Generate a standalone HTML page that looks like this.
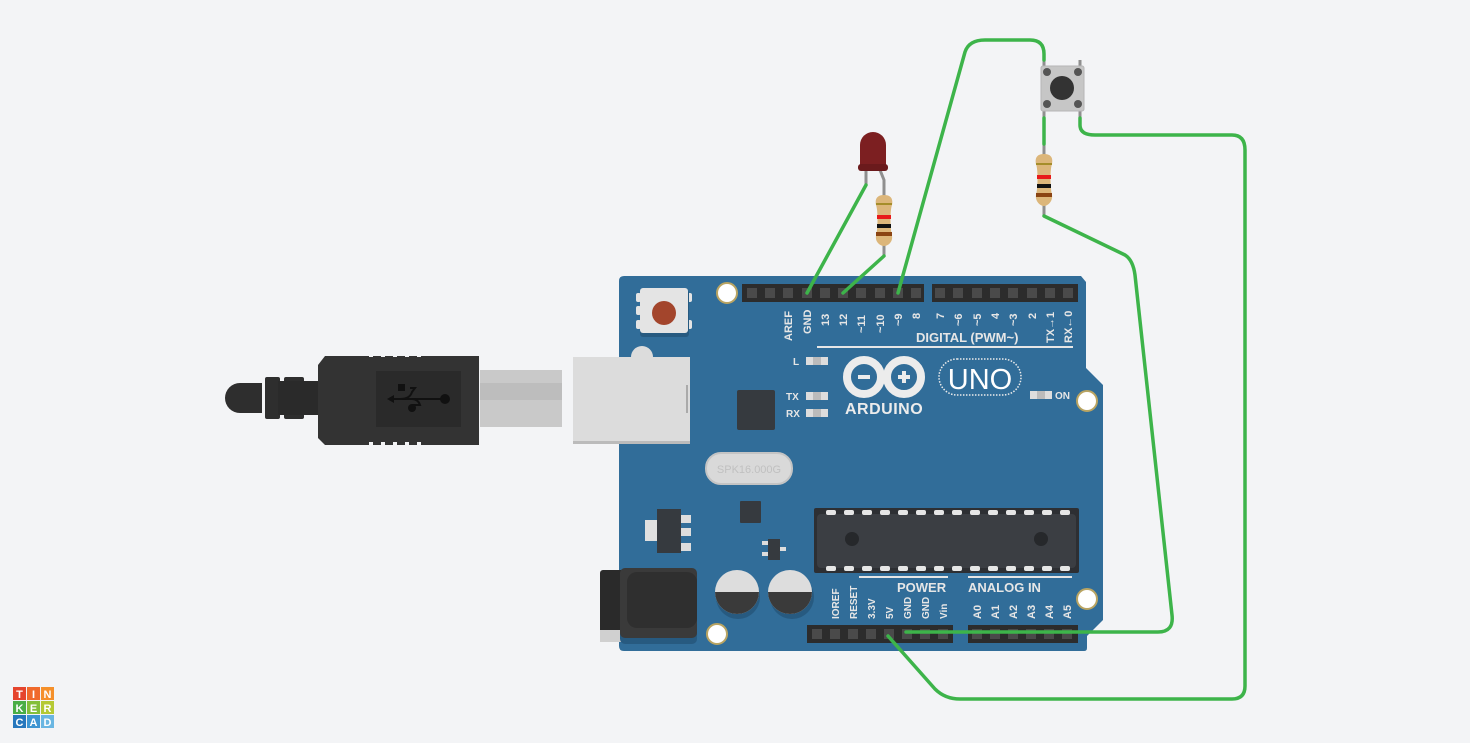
<!DOCTYPE html>
<html><head><meta charset="utf-8"><style>
html,body{margin:0;padding:0;background:#f3f4f6;}
svg{display:block;font-family:"Liberation Sans",sans-serif;}
</style></head><body>
<svg width="1470" height="743" viewBox="0 0 1470 743" xmlns="http://www.w3.org/2000/svg">
<rect width="1470" height="743" fill="#f3f4f6"/>

<!-- USB cable -->
<g>
<path d="M240 383 H262 V413 H240 A15 15 0 0 1 240 383 Z" fill="#2e2e2e"/>
<rect x="265" y="377" width="15" height="42" rx="2" fill="#2e2e2e"/>
<rect x="284" y="377" width="20" height="42" rx="2" fill="#2e2e2e"/>
<rect x="278" y="381" width="40" height="34" fill="#2a2a2a"/>
<path d="M325 356 H479 V445 H325 L318 438 V365 Z" fill="#333"/>
<g fill="#f3f4f6"><rect x="369" y="353" width="4" height="4"/><rect x="381" y="353" width="4" height="4"/><rect x="393" y="353" width="4" height="4"/><rect x="405" y="353" width="4" height="4"/><rect x="417" y="353" width="4" height="4"/><rect x="369" y="442" width="4" height="4"/><rect x="381" y="442" width="4" height="4"/><rect x="393" y="442" width="4" height="4"/><rect x="405" y="442" width="4" height="4"/><rect x="417" y="442" width="4" height="4"/></g>
<rect x="376" y="371" width="85" height="56" fill="#2a2a2a"/>
<g stroke="#111" stroke-width="2" fill="none"><path d="M390 399 H445"/><path d="M400 399 Q410 399 412 392 L415 388 H410"/><path d="M412 399 Q418 399 420 405 H412"/></g>
<rect x="398" y="384" width="7" height="7" fill="#111"/><circle cx="445" cy="399" r="5" fill="#111"/><circle cx="412" cy="408" r="4" fill="#111"/><path d="M387 399 L394 395 V403 Z" fill="#111"/>
<rect x="480" y="370" width="82" height="57" fill="#c9c9c9"/>
<rect x="480" y="383" width="82" height="17" fill="#bdbdbd"/>
</g>

<!-- board -->
<path d="M624 276 H1081 L1086 282 V368 L1103 385 V620 L1087 636 V648 Q1087 651 1084 651 H624 Q619 651 619 646 V281 Q619 276 624 276 Z" fill="#316d99"/>
<circle cx="642" cy="357" r="11" fill="#dcdcdc"/>
<rect x="573" y="357" width="117" height="86" fill="#dcdcdc"/>
<rect x="573" y="441" width="117" height="3" fill="#bbb"/>
<rect x="686" y="385" width="2" height="28" fill="#aaa"/>

<!-- reset -->
<rect x="636" y="293" width="5" height="9" rx="2" fill="#e4e4e4"/><rect x="636" y="306" width="5" height="9" rx="2" fill="#e4e4e4"/><rect x="636" y="320" width="5" height="9" rx="2" fill="#e4e4e4"/>
<rect x="687" y="293" width="5" height="9" rx="2" fill="#e4e4e4"/><rect x="687" y="320" width="5" height="9" rx="2" fill="#e4e4e4"/>
<rect x="640" y="290" width="49" height="47" rx="3" fill="#275a80"/>
<rect x="640" y="288" width="48" height="45" rx="3" fill="#e4e4e4"/>
<circle cx="664" cy="313" r="12" fill="#a3452c"/>

<!-- holes -->
<g fill="#fff" stroke="#b9a462" stroke-width="2"><circle cx="727" cy="293" r="10"/><circle cx="1087" cy="401" r="10"/><circle cx="1087" cy="599" r="10"/><circle cx="717" cy="634" r="10"/></g>

<!-- top headers -->
<rect x="742" y="284" width="182" height="18" fill="#2c2c2c"/>
<rect x="932" y="284" width="146" height="18" fill="#2c2c2c"/>
<g fill="#4a4a4a">
<rect x="747" y="288" width="10" height="10"/><rect x="765" y="288" width="10" height="10"/><rect x="783" y="288" width="10" height="10"/><rect x="802" y="288" width="10" height="10"/><rect x="820" y="288" width="10" height="10"/><rect x="838" y="288" width="10" height="10"/><rect x="856" y="288" width="10" height="10"/><rect x="875" y="288" width="10" height="10"/><rect x="893" y="288" width="10" height="10"/><rect x="911" y="288" width="10" height="10"/>
<rect x="935" y="288" width="10" height="10"/><rect x="953" y="288" width="10" height="10"/><rect x="972" y="288" width="10" height="10"/><rect x="990" y="288" width="10" height="10"/><rect x="1008" y="288" width="10" height="10"/><rect x="1027" y="288" width="10" height="10"/><rect x="1045" y="288" width="10" height="10"/><rect x="1063" y="288" width="10" height="10"/>
</g>
<g fill="#e6e6e6" font-size="11" font-weight="bold">
<text transform="translate(792,341) rotate(-90)">AREF</text>
<text transform="translate(811,334) rotate(-90)">GND</text>
<text transform="translate(829,326) rotate(-90)">13</text>
<text transform="translate(847,326) rotate(-90)">12</text>
<text transform="translate(865,333) rotate(-90)">~11</text>
<text transform="translate(884,333) rotate(-90)">~10</text>
<text transform="translate(902,326) rotate(-90)">~9</text>
<text transform="translate(920,319) rotate(-90)">8</text>
<text transform="translate(944,319) rotate(-90)">7</text>
<text transform="translate(962,326) rotate(-90)">~6</text>
<text transform="translate(981,326) rotate(-90)">~5</text>
<text transform="translate(999,319) rotate(-90)">4</text>
<text transform="translate(1017,326) rotate(-90)">~3</text>
<text transform="translate(1036,319) rotate(-90)">2</text>
<text transform="translate(1054,343) rotate(-90)">TX→1</text>
<text transform="translate(1072,343) rotate(-90)">RX←0</text>
<text x="916" y="342" font-size="13">DIGITAL (PWM~)</text>
</g>
<rect x="817" y="346" width="256" height="2" fill="#e6e6e6"/>

<!-- LEDs -->
<g><rect x="806" y="357" width="22" height="8" fill="#ddd"/><rect x="813" y="357" width="8" height="8" fill="#bbb"/>
<rect x="806" y="392" width="22" height="8" fill="#ddd"/><rect x="813" y="392" width="8" height="8" fill="#bbb"/>
<rect x="806" y="409" width="22" height="8" fill="#ddd"/><rect x="813" y="409" width="8" height="8" fill="#bbb"/>
<rect x="1030" y="391" width="22" height="8" fill="#ddd"/><rect x="1037" y="391" width="8" height="8" fill="#bbb"/></g>
<g fill="#e6e6e6" font-size="10" font-weight="bold"><text x="793" y="365">L</text><text x="786" y="400">TX</text><text x="786" y="417">RX</text><text x="1055" y="399">ON</text></g>

<!-- logo -->
<g fill="none" stroke="#ececec" stroke-width="8"><circle cx="864" cy="377" r="17"/><circle cx="904" cy="377" r="17"/></g>
<g fill="#ececec"><rect x="858" y="375" width="12" height="4"/><rect x="898" y="375" width="12" height="4"/><rect x="902" y="371" width="4" height="12"/></g>
<text x="845" y="414" fill="#ececec" font-size="16" font-weight="bold" letter-spacing="0.5">ARDUINO</text>
<rect x="939" y="359" width="82" height="36" rx="18" fill="none" stroke="#ececec" stroke-width="1.5" stroke-dasharray="1.5 1.5"/>
<text x="980" y="389" fill="#fff" font-size="29" text-anchor="middle">UNO</text>

<!-- chips -->
<rect x="737" y="390" width="38" height="40" rx="2" fill="#363a3f"/>
<rect x="706" y="453" width="86" height="31" rx="15" fill="#d9d9d9" stroke="#c4c4c4" stroke-width="2"/>
<text x="749" y="473" fill="#c0c0c0" font-size="11" text-anchor="middle">SPK16.000G</text>
<rect x="740" y="501" width="21" height="22" rx="1" fill="#363a3f"/>
<rect x="645" y="520" width="16" height="21" fill="#e0e0e0"/>
<rect x="657" y="509" width="24" height="44" fill="#363a3f"/>
<g fill="#ddd"><rect x="681" y="515" width="10" height="8"/><rect x="681" y="528" width="10" height="8"/><rect x="681" y="543" width="10" height="8"/></g>
<rect x="768" y="539" width="12" height="21" fill="#363a3f"/>
<g fill="#ddd"><rect x="762" y="541" width="6" height="4"/><rect x="762" y="552" width="6" height="4"/><rect x="780" y="547" width="6" height="4"/></g>
<rect x="814" y="508" width="265" height="65" rx="2" fill="#2d2f33"/>
<rect x="817" y="514" width="259" height="54" rx="4" fill="#3b3e43"/>
<g fill="#e6e6e6">
<rect x="826" y="510" width="10" height="5" rx="2"/><rect x="844" y="510" width="10" height="5" rx="2"/><rect x="862" y="510" width="10" height="5" rx="2"/><rect x="880" y="510" width="10" height="5" rx="2"/><rect x="898" y="510" width="10" height="5" rx="2"/><rect x="916" y="510" width="10" height="5" rx="2"/><rect x="934" y="510" width="10" height="5" rx="2"/><rect x="952" y="510" width="10" height="5" rx="2"/><rect x="970" y="510" width="10" height="5" rx="2"/><rect x="988" y="510" width="10" height="5" rx="2"/><rect x="1006" y="510" width="10" height="5" rx="2"/><rect x="1024" y="510" width="10" height="5" rx="2"/><rect x="1042" y="510" width="10" height="5" rx="2"/><rect x="1060" y="510" width="10" height="5" rx="2"/>
<rect x="826" y="566" width="10" height="5" rx="2"/><rect x="844" y="566" width="10" height="5" rx="2"/><rect x="862" y="566" width="10" height="5" rx="2"/><rect x="880" y="566" width="10" height="5" rx="2"/><rect x="898" y="566" width="10" height="5" rx="2"/><rect x="916" y="566" width="10" height="5" rx="2"/><rect x="934" y="566" width="10" height="5" rx="2"/><rect x="952" y="566" width="10" height="5" rx="2"/><rect x="970" y="566" width="10" height="5" rx="2"/><rect x="988" y="566" width="10" height="5" rx="2"/><rect x="1006" y="566" width="10" height="5" rx="2"/><rect x="1024" y="566" width="10" height="5" rx="2"/><rect x="1042" y="566" width="10" height="5" rx="2"/><rect x="1060" y="566" width="10" height="5" rx="2"/>
</g>
<circle cx="852" cy="539" r="7" fill="#26282b"/><circle cx="1041" cy="539" r="7" fill="#26282b"/>

<!-- caps & jack -->
<g><circle cx="738" cy="597" r="22" fill="#275a80"/><circle cx="737" cy="592" r="22" fill="#ddd"/><path d="M715 597 H759 A22 22 0 0 1 715 597 Z" transform="translate(0,-5)" fill="#3a3a3a"/>
<circle cx="792" cy="597" r="22" fill="#275a80"/><circle cx="790" cy="592" r="22" fill="#ddd"/><path d="M768 597 H812 A22 22 0 0 1 768 597 Z" transform="translate(0,-5)" fill="#3a3a3a"/></g>
<rect x="600" y="570" width="28" height="72" rx="3" fill="#2a2a2a"/>
<rect x="600" y="630" width="28" height="12" fill="#d0d0d0"/>
<rect x="620" y="572" width="77" height="72" rx="5" fill="#275a80"/>
<rect x="620" y="568" width="77" height="70" rx="5" fill="#3a3a3a"/>
<rect x="627" y="572" width="70" height="56" rx="10" fill="#2f2f2f"/>

<!-- bottom headers -->
<text x="897" y="592" fill="#e6e6e6" font-size="13" font-weight="bold">POWER</text>
<text x="968" y="592" fill="#e6e6e6" font-size="13" font-weight="bold">ANALOG IN</text>
<rect x="859" y="576" width="89" height="2" fill="#e6e6e6"/><rect x="968" y="576" width="104" height="2" fill="#e6e6e6"/>
<g fill="#e6e6e6" font-size="10" font-weight="bold">
<text transform="translate(839,619) rotate(-90)">IOREF</text>
<text transform="translate(857,619) rotate(-90)">RESET</text>
<text transform="translate(875,619) rotate(-90)">3.3V</text>
<text transform="translate(893,619) rotate(-90)">5V</text>
<text transform="translate(911,619) rotate(-90)">GND</text>
<text transform="translate(929,619) rotate(-90)">GND</text>
<text transform="translate(947,619) rotate(-90)">Vin</text>
<text transform="translate(981,619) rotate(-90)" font-size="11">A0</text>
<text transform="translate(999,619) rotate(-90)" font-size="11">A1</text>
<text transform="translate(1017,619) rotate(-90)" font-size="11">A2</text>
<text transform="translate(1035,619) rotate(-90)" font-size="11">A3</text>
<text transform="translate(1053,619) rotate(-90)" font-size="11">A4</text>
<text transform="translate(1071,619) rotate(-90)" font-size="11">A5</text>
</g>
<rect x="807" y="625" width="146" height="18" fill="#2c2c2c"/>
<rect x="968" y="625" width="110" height="18" fill="#2c2c2c"/>
<g fill="#4a4a4a">
<rect x="812" y="629" width="10" height="10"/><rect x="830" y="629" width="10" height="10"/><rect x="848" y="629" width="10" height="10"/><rect x="866" y="629" width="10" height="10"/><rect x="884" y="629" width="10" height="10"/><rect x="902" y="629" width="10" height="10"/><rect x="920" y="629" width="10" height="10"/><rect x="938" y="629" width="10" height="10"/>
<rect x="972" y="629" width="10" height="10"/><rect x="990" y="629" width="10" height="10"/><rect x="1008" y="629" width="10" height="10"/><rect x="1026" y="629" width="10" height="10"/><rect x="1044" y="629" width="10" height="10"/><rect x="1062" y="629" width="10" height="10"/>
</g>

<!-- component legs -->
<g stroke="#8f8f8f" stroke-width="3" fill="none">
<path d="M866 170 V185"/><path d="M880 170 L884 180 V198"/><path d="M884 244 V256"/>
<path d="M1044 60 V68"/><path d="M1080 60 V68"/><path d="M1044 110 V118"/><path d="M1080 110 V118"/>
<path d="M1044 144 V156"/><path d="M1044 204 V216"/>
</g>

<!-- LED -->
<path d="M860 170 V145 A13 13 0 0 1 886 145 V170 Z" fill="#7c1f21"/>
<rect x="858" y="164" width="30" height="7" rx="3" fill="#6a1a1c"/>

<!-- resistors -->
<g>
<path d="M884 195 C892 195 893 200 892 205 C890 210 890 228 892 236 C893 242 888 246 884 246 C880 246 875 242 876 236 C878 228 878 210 876 205 C875 200 876 195 884 195 Z" fill="#dcb67a"/>
<rect x="876" y="203" width="16" height="2" fill="#a58d2a"/><rect x="877" y="215" width="14" height="4" fill="#e81a1a"/><rect x="877" y="224" width="14" height="4" fill="#111"/><rect x="876" y="232" width="16" height="4" fill="#8a4413"/>
<path d="M1044 154 C1052 154 1053 159 1052 164 C1050 169 1050 187 1052 195 C1053 201 1048 206 1044 206 C1040 206 1035 201 1036 195 C1038 187 1038 169 1036 164 C1035 159 1036 154 1044 154 Z" fill="#dcb67a"/>
<rect x="1036" y="163" width="16" height="2" fill="#a58d2a"/><rect x="1037" y="175" width="14" height="4" fill="#e81a1a"/><rect x="1037" y="184" width="14" height="4" fill="#111"/><rect x="1036" y="193" width="16" height="4" fill="#8a4413"/>
</g>

<!-- pushbutton -->
<rect x="1041" y="66" width="43" height="45" rx="2" fill="#c6c6c6" stroke="#b5b5b5"/>
<circle cx="1062" cy="88" r="12" fill="#333"/>
<g fill="#555"><circle cx="1047" cy="72" r="4"/><circle cx="1078" cy="72" r="4"/><circle cx="1047" cy="104" r="4"/><circle cx="1078" cy="104" r="4"/></g>

<!-- wires -->
<g stroke="#3db44a" stroke-width="3.5" fill="none" stroke-linecap="round" stroke-linejoin="round">
<path d="M866 185 L807 293"/>
<path d="M884 256 L843 293"/>
<path d="M898 293 L965 52 Q969 40 985 40 H1030 Q1044 40 1044 54 V60"/>
<path d="M1044 118 V144"/>
<path d="M1044 216 L1125 255 Q1133 260 1135 275 L1172 615 Q1174 632 1158 632 H906"/>
<path d="M1080 118 V125 Q1080 135 1095 135 H1232 Q1245 135 1245 150 V686 Q1245 699 1232 699 H960 Q945 699 935 689 L888 636"/>
</g>

<!-- tinkercad logo -->
<g font-size="11" font-weight="bold" fill="#fff" text-anchor="middle">
<rect x="13" y="687" width="13" height="13" fill="#e5452e"/><rect x="27" y="687" width="13" height="13" fill="#f06a2c"/><rect x="41" y="687" width="13" height="13" fill="#f5902a"/>
<rect x="13" y="701" width="13" height="13" fill="#4aae46"/><rect x="27" y="701" width="13" height="13" fill="#83bf3b"/><rect x="41" y="701" width="13" height="13" fill="#b5c934"/>
<rect x="13" y="715" width="13" height="13" fill="#2677bd"/><rect x="27" y="715" width="13" height="13" fill="#3d95d2"/><rect x="41" y="715" width="13" height="13" fill="#6ab6e2"/>
<text x="19.5" y="698">T</text><text x="33.5" y="698">I</text><text x="47.5" y="698">N</text>
<text x="19.5" y="712">K</text><text x="33.5" y="712">E</text><text x="47.5" y="712">R</text>
<text x="19.5" y="726">C</text><text x="33.5" y="726">A</text><text x="47.5" y="726">D</text>
</g>
</svg>
</body></html>
